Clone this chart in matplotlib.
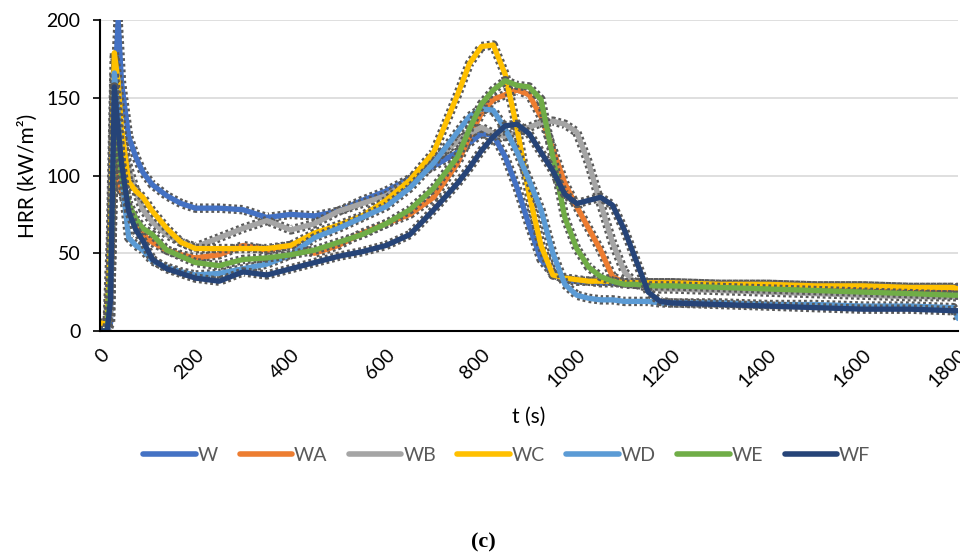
import matplotlib
matplotlib.use("Agg")
import matplotlib.pyplot as plt
from matplotlib.lines import Line2D

# time (s)
t = [0, 15, 22, 30, 38, 45, 60, 75, 90, 110, 140, 170, 200, 250, 300, 350, 400,
     450, 500, 550, 600, 650, 700, 750, 775, 800, 825, 850, 875, 900, 925, 950,
     975, 1000, 1025, 1050, 1075, 1100, 1125, 1150, 1175, 1200, 1300, 1400, 1500,
     1600, 1700, 1790, 1800]

# HRR (kW/m2)
W = [0, 0, 5, 150, 200, 160, 125, 112, 102, 94, 87, 82, 79, 79, 78, 73, 75,
     74, 77, 84, 90, 98, 106, 115, 121, 127, 126, 112, 92, 68, 46, 37,
     33, 32, 32, 31, 31, 31, 31, 31, 31, 31, 30, 30, 29,
     29, 28, 28, 28]
WA = [0, 0, 20, 112, 100, 90, 78, 70, 62, 57, 52, 49, 47, 49, 55, 52, 55,
      50, 55, 63, 69, 75, 86, 108, 125, 140, 149, 152, 155, 152, 138, 117,
      95, 80, 66, 52, 35, 31, 30, 30, 30, 30, 29, 29, 28,
      28, 27, 27, 27]
WB = [0, 0, 10, 138, 130, 125, 105, 90, 78, 70, 62, 57, 54, 60, 66, 71, 65,
      69, 77, 82, 87, 97, 110, 122, 127, 131, 127, 125, 128, 131, 134, 135,
      133, 128, 108, 82, 57, 38, 30, 28, 27, 27, 26, 25, 24,
      23, 22, 22, 22]
WC = [5, 5, 60, 179, 160, 130, 96, 90, 86, 77, 66, 57, 53, 53, 53, 53, 55,
      63, 68, 74, 84, 97, 115, 152, 172, 183, 184, 165, 130, 88, 55, 36,
      34, 33, 32, 32, 32, 31, 31, 31, 31, 31, 30, 30, 29,
      29, 28, 28, 27]
WD = [0, 0, 30, 166, 140, 100, 60, 55, 52, 45, 41, 38, 36, 37, 40, 43, 49,
      60, 66, 73, 80, 92, 108, 128, 138, 143, 142, 130, 115, 97, 78, 50,
      30, 23, 21, 20, 20, 19, 19, 19, 18, 18, 18, 17, 17,
      16, 16, 15, 8]
WE = [0, 0, 40, 128, 115, 100, 82, 72, 66, 62, 52, 48, 44, 42, 46, 47, 49,
      52, 57, 62, 69, 78, 92, 112, 130, 146, 155, 161, 158, 157, 149, 112,
      73, 53, 41, 35, 32, 30, 30, 29, 29, 29, 28, 27, 26,
      25, 24, 23, 23]
WF = [0, 0, 20, 157, 130, 108, 77, 65, 58, 46, 40, 37, 34, 32, 38, 36, 40,
      44, 48, 51, 55, 62, 78, 95, 105, 116, 125, 132, 133, 127, 115, 103,
      88, 82, 84, 86, 81, 65, 45, 25, 19, 18, 17, 16, 15,
      14, 14, 13, 13]

names = ["W", "WA", "WB", "WC", "WD", "WE", "WF"]
series = [W, WA, WB, WC, WD, WE, WF]
colors = ["#4472C4", "#ED7D31", "#A5A5A5", "#FFC000", "#5B9BD5", "#70AD47", "#264478"]

plt.rcParams["font.family"] = ["Lato", "DejaVu Sans"]

fig = plt.figure(figsize=(9.6, 5.59), dpi=100)
ax = fig.add_axes([0.1042, 0.408, 0.8938, 0.556])

for y, c in zip(series, colors):
    # grey dashed fringe standing in for the error bars
    ax.plot(t, y, color="#595959", lw=6.8, ls=(0, (0.3, 0.3)),
            solid_joinstyle="round", zorder=2)
    ax.plot(t, y, color=c, lw=3.8, solid_joinstyle="round",
            solid_capstyle="round", zorder=2)

ax.set_xlim(0, 1800)
ax.set_ylim(0, 200)
ax.set_xticks(range(0, 1801, 200))
ax.set_yticks(range(0, 201, 50))
ax.grid(axis="y", color="#D9D9D9", lw=1.2, zorder=0)
ax.set_axisbelow(True)
for s in ["top", "right"]:
    ax.spines[s].set_visible(False)
ax.spines["left"].set_linewidth(1.5)
ax.spines["bottom"].set_linewidth(1.5)
ax.tick_params(axis="y", length=5, width=1.2, labelsize=14, pad=9)
ax.tick_params(axis="x", length=0, labelsize=14, pad=11)
plt.setp(ax.get_xticklabels(), rotation=45, ha="right", va="top",
         rotation_mode="anchor")
ax.set_ylabel("HRR (kW/m²)", fontsize=15, labelpad=6)
ax.set_xlabel("t (s)", fontsize=15, labelpad=12)

handles = [Line2D([0], [0], color=c, lw=4, solid_capstyle="round") for c in colors]
fig.legend(handles, names, loc="center", bbox_to_anchor=(0.528, 0.186), ncol=7,
           frameon=False, fontsize=14, handlelength=2.7, handletextpad=0.1,
           columnspacing=1.1, labelcolor="#595959")

fig.text(0.503, 0.03, "(c)", ha="center", va="center", fontsize=16,
         fontweight="bold", family=["Liberation Serif", "DejaVu Serif"])

fig.savefig("out.png", dpi=100)
